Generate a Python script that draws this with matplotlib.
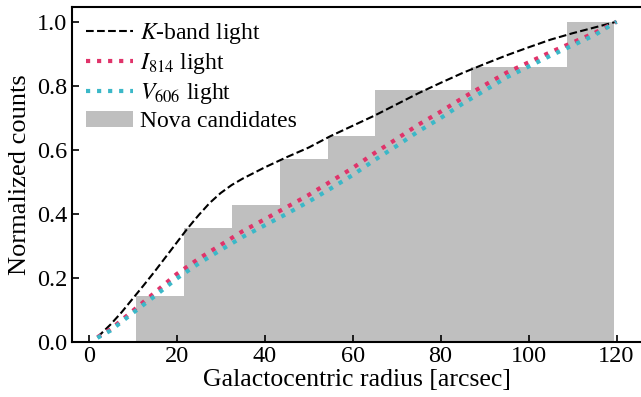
import matplotlib
matplotlib.use('Agg')
import numpy as np
import matplotlib.pyplot as plt

plt.rcParams['font.family'] = ['Liberation Serif', 'DejaVu Serif']
plt.rcParams['mathtext.fontset'] = 'stix'
plt.rcParams['font.size'] = 17

# cumulative light profiles vs. galactocentric radius
k_radius = [2, 5, 7.5, 10, 12.5, 15, 17.5, 20, 22.5, 25, 27.5, 30, 32.5, 35,
            40, 45, 50, 55, 60, 65, 70, 75, 80, 85, 90, 95, 100, 105, 110,
            115, 120]
k_band = [0.015, 0.055, 0.093, 0.135, 0.177, 0.22, 0.265, 0.31, 0.355, 0.396,
          0.434, 0.465, 0.49, 0.51, 0.545, 0.577, 0.607, 0.643, 0.675, 0.707,
          0.742, 0.777, 0.809, 0.84, 0.868, 0.895, 0.92, 0.944, 0.964, 0.982,
          1.0]
radius = [2, 5, 10, 15, 20, 25, 30, 35, 40, 45, 50, 55, 60,
          65, 70, 75, 80, 85, 90, 95, 100, 105, 110, 115, 120]
i814 = [0.015, 0.04, 0.097, 0.154, 0.212, 0.26, 0.303, 0.346, 0.383, 0.421,
        0.459, 0.501, 0.543, 0.59, 0.634, 0.679, 0.719, 0.762, 0.802, 0.841,
        0.873, 0.905, 0.935, 0.965, 1.0]
v606 = [0.013, 0.036, 0.09, 0.143, 0.198, 0.245, 0.287, 0.328, 0.364, 0.40,
        0.438, 0.479, 0.521, 0.568, 0.612, 0.658, 0.699, 0.744, 0.785, 0.826,
        0.86, 0.894, 0.926, 0.958, 1.0]

# nova candidates per radial bin
bin_edges = [0.0, 10.86, 21.73, 32.59, 43.45, 54.32, 65.18,
             76.05, 86.91, 97.77, 108.64, 119.5]
nova_counts = [0, 2, 3, 1, 2, 1, 2, 0, 1, 0, 2]

cum = np.cumsum(nova_counts) / np.sum(nova_counts)
edges = np.array(bin_edges)

fig = plt.figure(figsize=(6.41, 3.97), dpi=100)
ax = fig.add_axes([71.5/641, 55/397, 571/641, 334.7/397])

ax.plot(k_radius, k_band, 'k--', lw=1.5, label=r'$K$-band light', zorder=3)
ax.plot(radius, i814, ls=':', color='#e0336a', lw=3, label=r'$I_{814}$ light', zorder=3)
ax.plot(radius, v606, ls=':', color='#3bb8c8', lw=3, label=r'$V_{606}$ light', zorder=3)
ax.bar(edges[:-1], cum, width=np.diff(edges), align='edge',
       color='#bfbfbf', linewidth=0, label='Nova candidates', zorder=1)

ax.set_xlim(-3.9, 125.9)
ax.set_ylim(0, 1.045)
ax.set_xticks([0, 20, 40, 60, 80, 100, 120])
ax.set_yticks([0.0, 0.2, 0.4, 0.6, 0.8, 1.0])
ax.yaxis.set_major_formatter(matplotlib.ticker.FormatStrFormatter('%.1f'))
ax.tick_params(direction='in', length=5, width=1.2, labelsize=17.5, pad=3)
for s in ax.spines.values():
    s.set_linewidth(1.5)

ax.set_xlabel('Galactocentric radius [arcsec]', fontsize=18.5, labelpad=1)
ax.set_ylabel('Normalized counts', fontsize=19, labelpad=4)

ax.legend(loc='upper left', frameon=False, fontsize=17, handlelength=2.0,
          labelspacing=0.2, borderaxespad=0.25, handletextpad=0.3,
          borderpad=0.35)

fig.savefig('out.png', dpi=100)
